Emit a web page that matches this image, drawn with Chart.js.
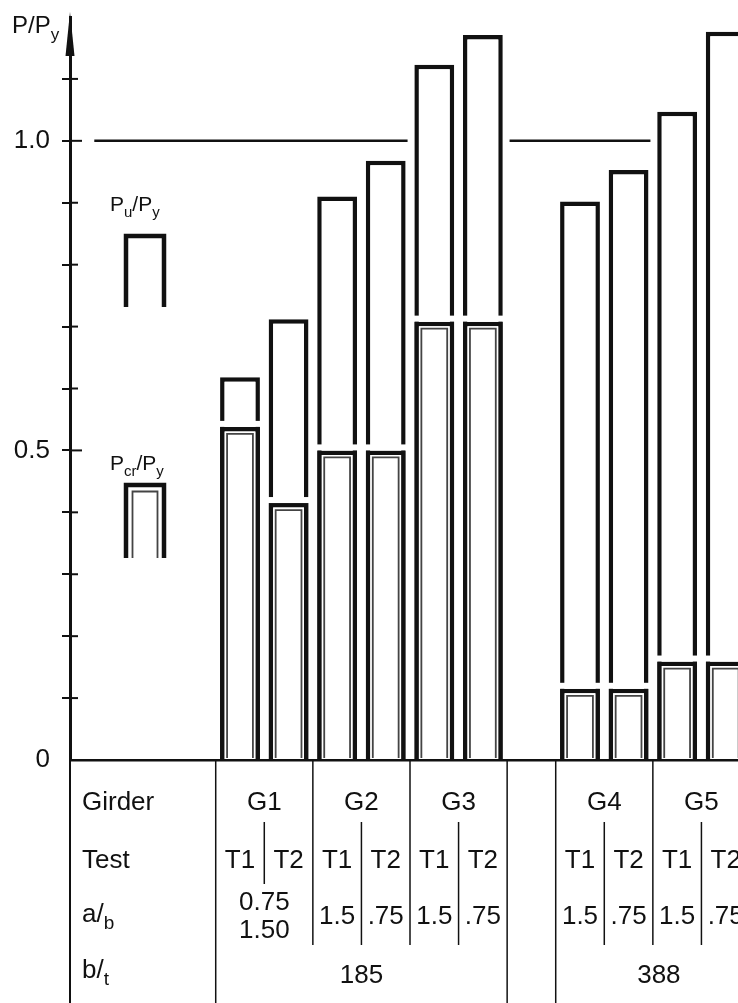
<!DOCTYPE html>
<html><head><meta charset="utf-8">
<script src="https://cdn.jsdelivr.net/npm/chart.js@4.4.0/dist/chart.umd.min.js"></script>
<style>
html,body{margin:0;padding:0;background:#fff;overflow:hidden;}
#wrap{width:738px;height:1003px;overflow:hidden;position:relative;background:#fff;}
canvas{display:block;}
</style></head><body>
<div id="wrap"><canvas id="c" width="750" height="1003"></canvas></div>
<script>
// ---------------- data ----------------
const girders = ['G1', 'G2', 'G3', 'G4', 'G5'];
const tests = ['T1', 'T2'];
// ultimate load ratio Pu/Py, one value per test (G1T1, G1T2, G2T1, ... G5T2)
const puRatio  = [0.618, 0.712, 0.910, 0.968, 1.123, 1.171, 0.902, 0.953, 1.047, 1.176];
// critical load ratio Pcr/Py
const pcrRatio = [0.538, 0.415, 0.500, 0.500, 0.708, 0.708, 0.115, 0.115, 0.159, 0.159];
// a/b per girder (G1 shared by both tests)
const aOverB = [['0.75', '1.50'], ['1.5', '.75'], ['1.5', '.75'], ['1.5', '.75'], ['1.5', '.75']];
const bOverT = ['185', '388'];
const bOverTGirders = [[0, 1, 2], [3, 4]];
const yTickLabels = { '0': '0', '0.5': '0.5', '1': '1.0' };
const referenceLevel = 1.0;
const rowLabels = ['Girder', 'Test', 'a/b', 'b/t'];

// ---------------- category slots ----------------
const slots = [{ label: '' }, { label: ' ' }, { label: '  ' }];
girders.forEach((g, gi) => {
  if (gi === 3) slots.push({ label: '   ' });
  tests.forEach((t, ti) => slots.push({ label: g + ' ' + t, g: gi, t: ti, k: gi * 2 + ti }));
});
const labels = slots.map(s => s.label);
const puData = slots.map(s => s.k === undefined ? null : puRatio[s.k]);
const pcrData = slots.map(s => s.k === undefined ? null : pcrRatio[s.k]);
const refData = slots.map(() => referenceLevel);

const FONT = '"Liberation Sans", Arial, sans-serif';
const INK = '#111';

function richText(ctx, x, y, parts, size, align) {
  const subSize = Math.round(size * 0.72);
  let w = 0;
  parts.forEach(p => { ctx.font = (p[1] ? subSize : size) + 'px ' + FONT; w += ctx.measureText(p[0]).width; });
  let cx = align === 'center' ? x - w / 2 : x;
  ctx.textAlign = 'left';
  ctx.textBaseline = 'alphabetic';
  parts.forEach(p => {
    ctx.font = (p[1] ? subSize : size) + 'px ' + FONT;
    ctx.fillText(p[0], cx, y + (p[1] ? size * 0.28 : 0));
    cx += ctx.measureText(p[0]).width;
  });
}

const decor = {
  id: 'decor',
  afterDatasetsDraw(chart) {
    const ctx = chart.ctx;
    const meta = chart.getDatasetMeta(3);
    ctx.save();
    meta.data.forEach((el, i) => {
      if (pcrData[i] == null) return;
      const p = el.getProps(['x', 'y', 'width', 'base'], true);
      const l = p.x - p.width / 2, r = p.x + p.width / 2;
      ctx.fillStyle = '#fff';
      ctx.fillRect(l - 1, p.y - 6, p.width + 2, 6);
      ctx.strokeStyle = '#444';
      ctx.lineWidth = 1.8;
      ctx.beginPath();
      ctx.moveTo(l + 7, p.base - 1);
      ctx.lineTo(l + 7, p.y + 7);
      ctx.lineTo(r - 7, p.y + 7);
      ctx.lineTo(r - 7, p.base - 1);
      ctx.stroke();
    });
    ctx.restore();
  },
  afterDraw(chart) {
    const ctx = chart.ctx;
    const xs = chart.scales.x, ys = chart.scales.y;
    const ax = chart.chartArea.left, base = chart.chartArea.bottom;
    ctx.save();
    ctx.strokeStyle = INK; ctx.fillStyle = INK;
    // axis arrow
    ctx.beginPath();
    ctx.moveTo(ax, 12); ctx.lineTo(ax - 4.5, 56); ctx.lineTo(ax + 4.5, 56); ctx.closePath(); ctx.fill();
    // tick marks crossing to the right of the axis
    ys.ticks.forEach(t => {
      const v = +t.value.toFixed(1);
      if (v <= 0 || v >= 1.2) return;
      const py = ys.getPixelForValue(t.value);
      const major = (v === 0.5 || v === 1);
      ctx.lineWidth = 2;
      ctx.beginPath(); ctx.moveTo(ax, py); ctx.lineTo(ax + (major ? 12 : 8), py); ctx.stroke();
    });
    // axis title
    richText(ctx, 12, 33, [['P/P', false], ['y', true]], 24, 'left');
    // legend
    richText(ctx, 110, 211, [['P', false], ['u', true], ['/P', false], ['y', true]], 21, 'left');
    ctx.lineWidth = 4.5; ctx.lineJoin = 'miter'; ctx.lineCap = 'butt';
    ctx.beginPath(); ctx.moveTo(126, 307); ctx.lineTo(126, 236); ctx.lineTo(164, 236); ctx.lineTo(164, 307); ctx.stroke();
    richText(ctx, 110, 470, [['P', false], ['cr', true], ['/P', false], ['y', true]], 21, 'left');
    ctx.beginPath(); ctx.moveTo(126, 558); ctx.lineTo(126, 485); ctx.lineTo(164, 485); ctx.lineTo(164, 558); ctx.stroke();
    ctx.strokeStyle = '#444'; ctx.lineWidth = 1.8;
    ctx.beginPath(); ctx.moveTo(132.5, 558); ctx.lineTo(132.5, 491.5); ctx.lineTo(157.5, 491.5); ctx.lineTo(157.5, 558); ctx.stroke();

    // ---- table ----
    ctx.strokeStyle = INK;
    const slotW = xs.getPixelForValue(1) - xs.getPixelForValue(0);
    const bound = i => xs.getPixelForValue(i) - slotW / 2;
    const first = gi => slots.findIndex(s => s.g === gi);
    ctx.lineWidth = 2;
    ctx.beginPath(); ctx.moveTo(ax, base); ctx.lineTo(ax, 1003); ctx.stroke();
    ctx.lineWidth = 1.5;
    // full-height lines: left of G1, and both sides of the gap column
    [bound(first(0)), bound(first(2) + 2), bound(first(3))].forEach(x => {
      ctx.beginPath(); ctx.moveTo(x, base); ctx.lineTo(x, 1003); ctx.stroke();
    });
    // girder separators inside each b/t block
    [bound(first(1)), bound(first(2)), bound(first(4))].forEach(x => {
      ctx.beginPath(); ctx.moveTo(x, base); ctx.lineTo(x, 945); ctx.stroke();
    });
    // test separators
    girders.forEach((g, gi) => {
      const x = bound(first(gi) + 1);
      ctx.beginPath(); ctx.moveTo(x, 822); ctx.lineTo(x, gi === 0 ? 884 : 945); ctx.stroke();
    });
    ctx.fillStyle = INK;
    const FS = 26;
    ctx.font = FS + 'px ' + FONT;
    ctx.textBaseline = 'alphabetic';
    ctx.textAlign = 'left';
    ctx.fillText(rowLabels[0], 82, 810);
    ctx.fillText(rowLabels[1], 82, 868);
    richText(ctx, 82, 922, [['a/', false], ['b', true]], FS, 'left');
    richText(ctx, 82, 978, [['b/', false], ['t', true]], FS, 'left');
    ctx.font = FS + 'px ' + FONT;
    ctx.textAlign = 'center';
    girders.forEach((g, gi) => {
      const f = first(gi);
      ctx.fillText(g, bound(f + 1), 810);
      tests.forEach((t, ti) => ctx.fillText(t, xs.getPixelForValue(f + ti), 868));
      if (gi === 0) {
        ctx.fillText(aOverB[0][0], bound(f + 1), 910);
        ctx.fillText(aOverB[0][1], bound(f + 1), 938);
      } else {
        tests.forEach((t, ti) => ctx.fillText(aOverB[gi][ti], xs.getPixelForValue(f + ti), 924));
      }
    });
    bOverT.forEach((txt, bi) => {
      const gs = bOverTGirders[bi];
      const x0 = bound(first(gs[0])), x1 = bound(first(gs[gs.length - 1]) + 2);
      ctx.fillText(txt, (x0 + x1) / 2 + (bi === 1 ? 6 : 0), 983);
    });
    ctx.restore();
  }
};

new Chart(document.getElementById('c'), {
  type: 'bar',
  data: {
    labels,
    datasets: [
      { type: 'line', label: 'P/Py = 1.0', data: refData, borderColor: INK, borderWidth: 2.5,
        pointRadius: 0, tension: 0, order: 4 },
      { label: 'clearance', data: puData, backgroundColor: '#fff', borderWidth: 0,
        barPercentage: 1.1, categoryPercentage: 1, grouped: false, order: 3 },
      { label: 'Pu/Py', data: puData, backgroundColor: '#fff', borderColor: INK, borderWidth: 4.5,
        borderSkipped: 'start', barPercentage: 0.82, categoryPercentage: 1, grouped: false, order: 2 },
      { label: 'Pcr/Py', data: pcrData, backgroundColor: '#fff', borderColor: INK, borderWidth: 4.5,
        borderSkipped: 'start', barPercentage: 0.82, categoryPercentage: 1, grouped: false, order: 1 }
    ]
  },
  options: {
    responsive: false,
    animation: false,
    devicePixelRatio: 1,
    layout: { padding: { top: 17, left: 0, right: 0, bottom: 0 } },
    plugins: { legend: { display: false }, tooltip: { enabled: false } },
    scales: {
      x: {
        ticks: { display: false },
        grid: { display: false },
        border: { display: true, color: INK, width: 2.5 },
        afterFit: s => { s.height = 243; s.paddingLeft = 0; s.paddingRight = 0; }
      },
      y: {
        min: 0, max: 1.2,
        ticks: {
          stepSize: 0.1, autoSkip: false, padding: 12, color: INK,
          font: { family: FONT, size: 26 },
          callback: v => yTickLabels[String(+Number(v).toFixed(1))] ?? ''
        },
        grid: {
          drawOnChartArea: false, drawTicks: true, tickLength: 8, lineWidth: 2,
          color: c => (c.tick && (c.tick.value > 1.15 || c.tick.value < 0.05)) ? 'rgba(0,0,0,0)' : INK
        },
        border: { display: true, color: INK, width: 3 },
        afterFit: s => { s.width = 70; s.paddingTop = 0; s.paddingBottom = 0; }
      }
    }
  },
  plugins: [decor]
});
</script>
</body></html>
